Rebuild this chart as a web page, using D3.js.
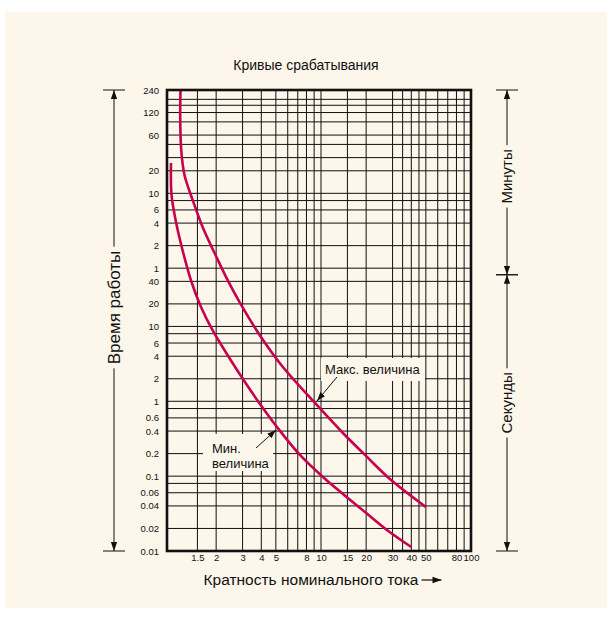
<!doctype html>
<html>
<head>
<meta charset="UTF-8">
<title>Кривые срабатывания</title>
<style>
body { margin: 0; background: #fff; }
svg text { font-family: "Liberation Sans", Arial, sans-serif; fill: #111; }
</style>
</head>
<body>
<div id="chart"></div>
<script src="https://cdn.jsdelivr.net/npm/d3@7"></script>
<script>
// multiples of rated current
var xTicks = [1.5, 2, 3, 4, 5, 8, 10, 15, 20, 30, 40, 50, 80, 100];
var xGrid = [1.5, 2, 3, 4, 5, 6, 7, 8, 9, 10, 15, 20, 30, 35, 40, 45, 50, 60, 70, 80, 90];
// time: minutes part (top) and seconds part (bottom)
var minTicks = [240, 120, 60, 20, 10, 6, 4, 2, 1];
var minGrid = [180, 150, 120, 90, 60, 45, 30, 20, 10, 8, 6, 4, 2, 1];
var secTicks = [40, 20, 10, 6, 4, 2, 1, 0.6, 0.4, 0.2, 0.1, 0.06, 0.04, 0.02, 0.01];
var secGrid = [40, 20, 10, 8, 6, 4, 2, 1, 0.8, 0.6, 0.4, 0.2, 0.1, 0.08, 0.06, 0.04, 0.02];
// curves: [multiple, time in seconds]
var maxCurve = [[1.157, 14400], [1.152, 6085], [1.170, 2275], [1.230, 1054], [1.402, 474], [1.635, 206],
  [1.995, 87.3], [2.40, 40.5], [2.884, 20.6], [3.86, 7.93], [5.5, 2.96], [9.12, 0.949], [14.0, 0.377],
  [19.65, 0.192], [28.8, 0.0916], [50, 0.0387]];
var minCurve = [[1.0, 1525], [1.008, 570], [1.08, 248], [1.193, 105], [1.37, 39.2], [1.585, 18.2],
  [1.905, 8.69], [2.474, 3.67], [3.11, 1.81], [3.92, 0.92], [5.09, 0.453], [7.24, 0.192], [10.3, 0.0974],
  [14.0, 0.0578], [19.65, 0.0332], [27.5, 0.0191], [40, 0.0113]];

var W = 607, H = 623;
var cream = "#fdf6ea", red = "#c8004e";

var svg = d3.select("#chart").append("svg")
  .attr("width", W).attr("height", H);

svg.append("defs").append("marker")
  .attr("id", "arr").attr("viewBox", "0 0 10 10")
  .attr("refX", 10).attr("refY", 5)
  .attr("markerWidth", 9).attr("markerHeight", 9)
  .attr("markerUnits", "userSpaceOnUse")
  .attr("orient", "auto-start-reverse")
  .append("path").attr("d", "M0,1.5 L10,5 L0,8.5 Z").attr("fill", "#111");

svg.append("rect").attr("x", 5).attr("y", 12)
  .attr("width", W - 5).attr("height", 596).attr("fill", cream);

var x = d3.scaleLog().domain([1, 100]).range([171, 471]);
var y = d3.scaleLog().domain([14400, 0.01]).range([90, 551]);
var x0 = x(1) - 4, x1 = x(100), y0 = y(14400), y1 = y(0.01);

// grid
var grid = svg.append("g").attr("stroke", "#111").attr("stroke-width", 1);
grid.selectAll("line.v").data(xGrid).join("line").attr("class", "v")
  .attr("x1", d => x(d)).attr("x2", d => x(d))
  .attr("y1", y0).attr("y2", y1);
grid.selectAll("line.h").data(minGrid.map(m => m * 60).concat(secGrid)).join("line").attr("class", "h")
  .attr("x1", x0).attr("x2", x1)
  .attr("y1", d => y(d)).attr("y2", d => y(d));

// annotation boxes hide the grid
svg.append("rect").attr("x", 321).attr("y", 358).attr("width", 104).attr("height", 23).attr("fill", cream);
svg.append("rect").attr("x", 203).attr("y", 434).attr("width", 70).attr("height", 37).attr("fill", cream);

// curves
var line = d3.line().x(d => x(d[0])).y(d => y(d[1])).curve(d3.curveCatmullRom.alpha(0.5));
svg.selectAll("path.curve").data([maxCurve, minCurve]).join("path").attr("class", "curve")
  .attr("d", line).attr("fill", "none").attr("stroke", red).attr("stroke-width", 2.6);

// frame
svg.append("rect").attr("x", x0).attr("y", y0)
  .attr("width", x1 - x0).attr("height", y1 - y0)
  .attr("fill", "none").attr("stroke", "#111").attr("stroke-width", 2.6);

// axes
var axL1 = svg.append("g").attr("transform", `translate(${x0},0)`)
  .call(d3.axisLeft(y).tickValues(minTicks.map(m => m * 60)).tickFormat(v => v / 60).tickSize(0).tickPadding(8));
var axL2 = svg.append("g").attr("transform", `translate(${x0},0)`)
  .call(d3.axisLeft(y).tickValues(secTicks).tickFormat(v => String(v)).tickSize(0).tickPadding(8));
var axB = svg.append("g").attr("transform", `translate(0,${y1})`)
  .call(d3.axisBottom(x).tickValues(xTicks).tickFormat(v => String(v)).tickSize(0).tickPadding(3));
[axL1, axL2, axB].forEach(function(a) {
  a.select(".domain").remove();
  a.selectAll("text").style("font-family", "'Liberation Sans', Arial, sans-serif")
    .style("font-size", "9.5px").attr("fill", "#111");
});

// title
svg.append("text").attr("x", 306).attr("y", 70).attr("text-anchor", "middle")
  .style("font-size", "14px").text("Кривые срабатывания");

// x label with arrow
var xl = svg.append("text").attr("x", 311).attr("y", 585).attr("text-anchor", "middle")
  .style("font-size", "15.5px").text("Кратность номинального тока");
var xlLen = xl.node().getComputedTextLength();
svg.append("line").attr("x1", 311 + xlLen / 2 + 3).attr("x2", 311 + xlLen / 2 + 23)
  .attr("y1", 580).attr("y2", 580).attr("stroke", "#111").attr("stroke-width", 1.2)
  .attr("marker-end", "url(#arr)");

// span with arrows, bars and a label in a gap
function span(cx, ya, yb, label, size, shift) {
  svg.append("line").attr("x1", cx).attr("x2", cx).attr("y1", ya).attr("y2", yb)
    .attr("stroke", "#111").attr("stroke-width", 1)
    .attr("marker-start", "url(#arr)").attr("marker-end", "url(#arr)");
  [ya, yb].forEach(function(v) {
    svg.append("line").attr("x1", cx - 11).attr("x2", cx + 11).attr("y1", v).attr("y2", v)
      .attr("stroke", "#111").attr("stroke-width", 1);
  });
  var cy = (ya + yb) / 2 + shift;
  var g = svg.append("g").attr("transform", `translate(${cx},${cy}) rotate(-90)`);
  var bg = g.append("rect").attr("fill", cream);
  var t = g.append("text").attr("text-anchor", "middle").attr("dy", "0.36em")
    .style("font-size", size + "px").text(label);
  var len = t.node().getComputedTextLength();
  bg.attr("x", -len / 2 - 4).attr("width", len + 8).attr("y", -size * 0.6).attr("height", size * 1.2);
}
var yMid = y(Math.sqrt(60 * 40));
span(114, y0, y1, "Время работы", 17, -13);
span(507, y0, yMid, "Минуты", 15, -6);
span(507, yMid, y1, "Секунды", 15, -10);

// annotations
svg.append("text").attr("x", 325).attr("y", 374).style("font-size", "13px").text("Макс. величина");
svg.append("line").attr("x1", 337).attr("y1", 377).attr("x2", 317).attr("y2", 401)
  .attr("stroke", "#111").attr("stroke-width", 1).attr("marker-end", "url(#arr)");
svg.append("text").attr("x", 212).attr("y", 453).style("font-size", "13px").text("Мин.");
svg.append("text").attr("x", 212).attr("y", 468).style("font-size", "13px").text("величина");
svg.append("line").attr("x1", 256).attr("y1", 448).attr("x2", 276).attr("y2", 430)
  .attr("stroke", "#111").attr("stroke-width", 1).attr("marker-end", "url(#arr)");
</script>
</body>
</html>
